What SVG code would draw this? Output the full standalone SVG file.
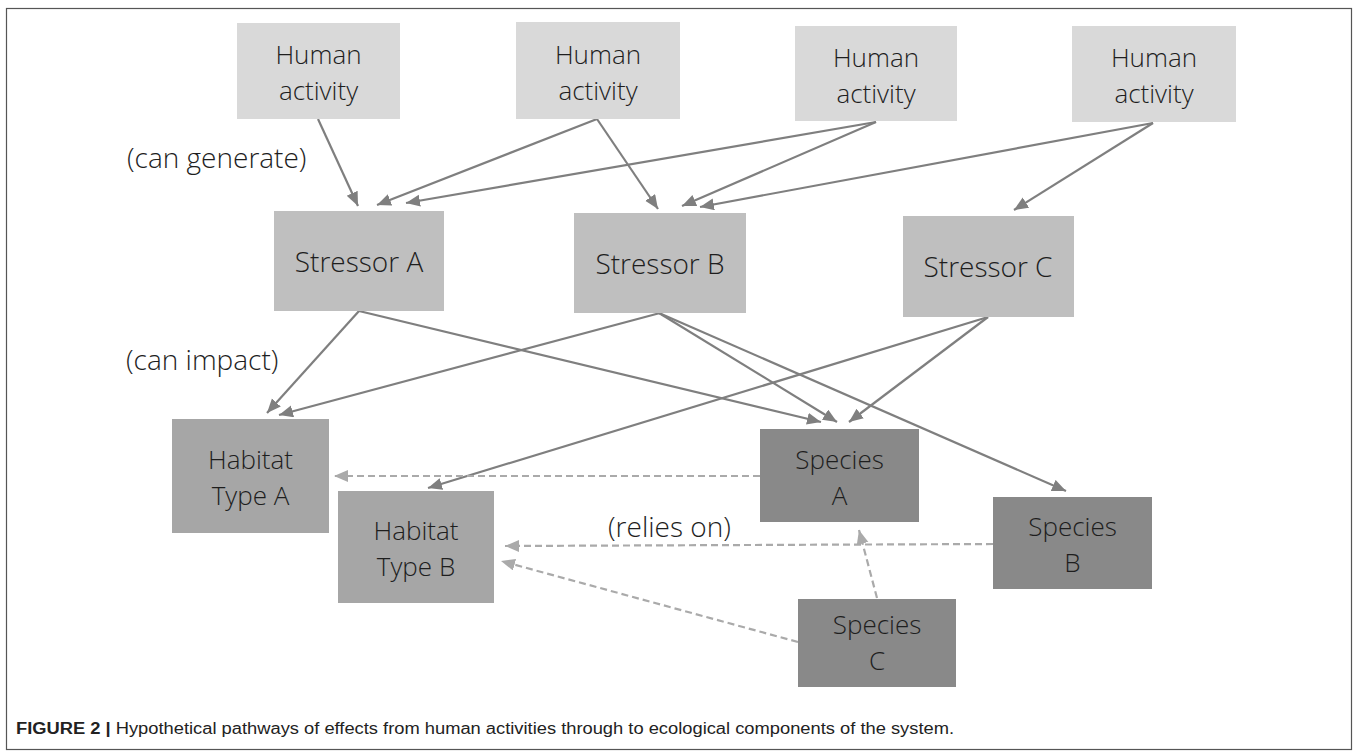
<svg xmlns="http://www.w3.org/2000/svg" width="1358" height="754" viewBox="0 0 1358 754">
<style>
.frame{fill:#ffffff;stroke:#555555;stroke-width:1.2}
.ha{fill:#d9d9d9}
.st{fill:#bfbfbf}
.hb{fill:#a6a6a6}
.sp{fill:#898989}
.lbl{font-family:"Open Sans",Lato,"Liberation Sans",sans-serif;font-weight:300;font-size:26px;fill:#1e1e1e;text-anchor:middle}
.one{font-size:28px}
.note{font-family:"Open Sans",Lato,"Liberation Sans",sans-serif;font-weight:300;font-size:28px;fill:#1e1e1e}
.solid{stroke:#7f7f7f;stroke-width:2.2;fill:none;marker-end:url(#arr)}
.dash{stroke:#aaaaaa;stroke-width:2.2;fill:none;stroke-dasharray:7 4;marker-end:url(#arrd)}
.cap{font-family:"Liberation Sans",Arial,sans-serif;font-size:16px;fill:#222222}
</style>
<defs>
<marker id="arr" markerUnits="userSpaceOnUse" markerWidth="16" markerHeight="14" refX="14" refY="6" orient="auto">
<path d="M0,0 L14,6 L0,12 Z" fill="#7f7f7f"/>
</marker>
<marker id="arrd" markerUnits="userSpaceOnUse" markerWidth="16" markerHeight="14" refX="14" refY="6" orient="auto">
<path d="M0,0 L14,6 L0,12 Z" fill="#aaaaaa"/>
</marker>
</defs>
<rect class="frame" x="6.5" y="8.5" width="1345" height="741"/>
<g id="connectors">
<line class="solid" x1="318" y1="119" x2="358" y2="206"/>
<line class="solid" x1="597" y1="119" x2="377" y2="205"/>
<line class="solid" x1="597" y1="119" x2="658" y2="209"/>
<line class="solid" x1="876" y1="122" x2="406" y2="203"/>
<line class="solid" x1="876" y1="122" x2="682" y2="206"/>
<line class="solid" x1="1153" y1="123" x2="700" y2="207"/>
<line class="solid" x1="1153" y1="123" x2="1014" y2="210"/>
<line class="solid" x1="359" y1="311" x2="267" y2="413"/>
<line class="solid" x1="660" y1="313" x2="279" y2="415"/>
<line class="solid" x1="359" y1="311" x2="821" y2="422"/>
<line class="solid" x1="659" y1="313" x2="837" y2="422"/>
<line class="solid" x1="988" y1="317" x2="849" y2="422"/>
<line class="solid" x1="659" y1="313" x2="1066" y2="491"/>
<line class="solid" x1="988" y1="317" x2="428" y2="488"/>
<line class="dash" x1="760" y1="476" x2="334" y2="476"/>
<line class="dash" x1="993" y1="544" x2="505" y2="546"/>
<line class="dash" x1="877" y1="598" x2="859" y2="530"/>
<line class="dash" x1="798" y1="642" x2="501" y2="561"/>
</g>
<g id="ha1"><rect class="ha" x="237" y="23" width="163" height="96"/><text class="lbl" x="318.5" y="63.5">Human</text><text class="lbl" x="318.5" y="99.5">activity</text></g>
<g id="ha2"><rect class="ha" x="516" y="22" width="164" height="97"/><text class="lbl" x="598" y="63.5">Human</text><text class="lbl" x="598" y="99.5">activity</text></g>
<g id="ha3"><rect class="ha" x="795" y="26" width="162" height="95"/><text class="lbl" x="876" y="66.5">Human</text><text class="lbl" x="876" y="102.5">activity</text></g>
<g id="ha4"><rect class="ha" x="1072" y="26" width="164" height="96"/><text class="lbl" x="1154" y="66.5">Human</text><text class="lbl" x="1154" y="102.5">activity</text></g>
<g id="stressorA"><rect class="st" x="274" y="211" width="170" height="100"/><text class="lbl one" x="359" y="272">Stressor A</text></g>
<g id="stressorB"><rect class="st" x="574" y="213" width="172" height="100"/><text class="lbl one" x="660" y="274">Stressor B</text></g>
<g id="stressorC"><rect class="st" x="903" y="216" width="171" height="101"/><text class="lbl one" x="988" y="277">Stressor C</text></g>
<g id="habitatA"><rect class="hb" x="172" y="419" width="157" height="114"/><text class="lbl" x="250.5" y="468.5">Habitat</text><text class="lbl" x="250.5" y="504.5">Type A</text></g>
<g id="habitatB"><rect class="hb" x="338" y="491" width="156" height="112"/><text class="lbl" x="416" y="540">Habitat</text><text class="lbl" x="416" y="576">Type B</text></g>
<g id="speciesA"><rect class="sp" x="760" y="429" width="159" height="93"/><text class="lbl" x="839.5" y="468.5">Species</text><text class="lbl" x="839.5" y="504.5">A</text></g>
<g id="speciesB"><rect class="sp" x="993" y="497" width="159" height="92"/><text class="lbl" x="1072.5" y="536">Species</text><text class="lbl" x="1072.5" y="572">B</text></g>
<g id="speciesC"><rect class="sp" x="798" y="599" width="158" height="88"/><text class="lbl" x="877" y="634">Species</text><text class="lbl" x="877" y="670">C</text></g>
<g id="labels">
<text class="note" x="127" y="168">(can generate)</text>
<text class="note" x="126" y="370">(can impact)</text>
<text class="note" x="608" y="537">(relies on)</text>
</g>
<text class="cap" x="16" y="734" textLength="938" lengthAdjust="spacingAndGlyphs"><tspan font-weight="bold">FIGURE 2 |</tspan> Hypothetical pathways of effects from human activities through to ecological components of the system.</text>
</svg>
